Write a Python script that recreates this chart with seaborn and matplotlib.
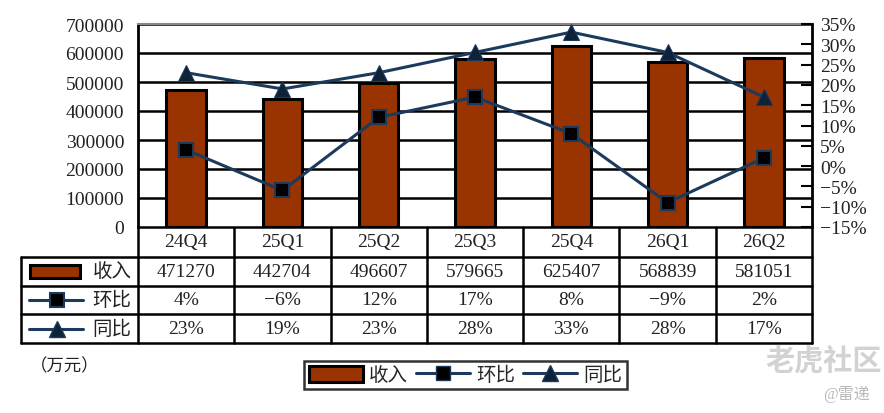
import numpy as np
import pandas as pd
import matplotlib
matplotlib.use("Agg")
import matplotlib.pyplot as plt
import seaborn as sns
from matplotlib.patches import Rectangle, Patch
from matplotlib.lines import Line2D
from matplotlib.ticker import FuncFormatter, MultipleLocator

# ---- data ----
quarters = ["24Q4", "25Q1", "25Q2", "25Q3", "25Q4", "26Q1", "26Q2"]
revenue = [471270, 442704, 496607, 579665, 625407, 568839, 581051]
qoq = [4, -6, 12, 17, 8, -9, 2]
yoy = [23, 19, 23, 28, 33, 28, 17]
series_names = ["收入", "环比", "同比"]
unit_label = "（万元）"

sns.set_theme(style="white")
plt.rcParams["font.family"] = ["Liberation Serif", "Noto Sans CJK SC", "DejaVu Sans"]
plt.rcParams["axes.unicode_minus"] = True

BAR = "#993300"
LINE = "#1B3A5C"
W, H = 884, 414

fig = plt.figure(figsize=(W / 100, H / 100), dpi=100)
fig.patch.set_facecolor("white")

L, R, T, B = 138, 812, 25, 228
ax = fig.add_axes([L / W, 1 - B / H, (R - L) / W, (B - T) / H])

df = pd.DataFrame({"q": quarters, "rev": revenue})
sns.barplot(data=df, x="q", y="rev", color=BAR, saturation=1, width=0.41,
            edgecolor="black", linewidth=2.2, ax=ax, zorder=3)
ax.set_ylim(0, 700000)
ax.set_xlim(-0.5, len(quarters) - 0.5)
ax.yaxis.set_major_locator(MultipleLocator(100000))
ax.yaxis.set_major_formatter(FuncFormatter(lambda v, _: f"{v:.0f}"))
ax.set_xlabel("")
ax.set_ylabel("")
ax.set_xticks([])
ax.tick_params(axis="y", length=0, pad=10, labelsize=14, colors="#222222")
ax.yaxis.grid(True, color="black", linewidth=1.8, zorder=0)
ax.set_axisbelow(True)
for s in ["left"]:
    ax.spines[s].set_color("black"); ax.spines[s].set_linewidth(2)
ax.spines["top"].set_color("#888888"); ax.spines["top"].set_linewidth(1.5)
ax.spines["bottom"].set_visible(False)
ax.spines["right"].set_visible(False)

ax2 = ax.twinx()
x = np.arange(len(quarters))
sns.lineplot(x=x, y=yoy, ax=ax2, color=LINE, linewidth=2.2, marker="^",
             markersize=11, markerfacecolor="#0E2238", markeredgecolor=LINE, zorder=5)
sns.lineplot(x=x, y=qoq, ax=ax2, color=LINE, linewidth=2.2, marker="s",
             markersize=10, markerfacecolor="black", markeredgecolor=LINE,
             markeredgewidth=1.5, zorder=5)
ax2.set_ylim(-15, 35)
ax2.set_xlim(-0.5, len(quarters) - 0.5)
ax2.yaxis.set_major_locator(MultipleLocator(5))
ax2.yaxis.set_major_formatter(FuncFormatter(lambda v, _: f"{v:.0f}%".replace("-", "\u2212")))
ax2.tick_params(axis="y", direction="in", length=8, width=1.5, pad=6,
                labelsize=14, colors="#222222")
ax2.tick_params(axis="y", colors="black", labelcolor="#222222")
ax2.spines["right"].set_color("black"); ax2.spines["right"].set_linewidth(2)
for s in ["top", "bottom", "left"]:
    ax2.spines[s].set_visible(False)
ax2.set_ylabel("")
ax2.grid(False)

# ---- data table ----
tax = fig.add_axes([0, 0, 1, 1], zorder=-1)
tax.set_xlim(0, W); tax.set_ylim(H, 0); tax.axis("off")
n = len(quarters)
cw = (R - L) / n
cols = [L + i * cw for i in range(n + 1)]
rows = [228, 258, 287, 315, 344]
LX = 21
lw = 1.8
tax.plot([L, R], [rows[0], rows[0]], color="black", lw=lw)
for yy in rows[1:]:
    tax.plot([LX, R], [yy, yy], color="black", lw=lw)
for cx in cols:
    tax.plot([cx, cx], [rows[0], rows[-1]], color="black", lw=lw)
tax.plot([LX, LX], [rows[1], rows[-1]], color="black", lw=lw)

fs = 14
rowvals = [quarters, [str(v) for v in revenue],
           [f"{v}%".replace("-", "\u2212") for v in qoq],
           [f"{v}%" for v in yoy]]
for r, vals in enumerate(rowvals):
    yc = (rows[r] + rows[r + 1]) / 2
    for i, s in enumerate(vals):
        tax.text(L + (i + 0.5) * cw, yc, s, ha="center", va="center",
                 fontsize=fs, color="#222222")

# legend keys in table
yc1 = (rows[1] + rows[2]) / 2
tax.add_patch(Rectangle((30, yc1 - 6.5), 50, 13, facecolor=BAR, edgecolor="black", lw=2.2))
yc2 = (rows[2] + rows[3]) / 2
tax.plot([29, 83], [yc2, yc2], color=LINE, lw=2.2)
tax.plot([57], [yc2], marker="s", markersize=10, markerfacecolor="black",
         markeredgecolor=LINE, markeredgewidth=1.5, color=LINE)
yc3 = (rows[3] + rows[4]) / 2
tax.plot([29, 83], [yc3, yc3], color=LINE, lw=2.2)
tax.plot([57], [yc3], marker="^", markersize=11, markerfacecolor="#0E2238",
         markeredgecolor=LINE, color=LINE)
for yc, name in zip([yc1, yc2, yc3], series_names):
    tax.text(112, yc, name, ha="center", va="center", fontsize=fs, color="#222222")

# unit label and watermark
tax.text(30, 367, unit_label, ha="left", va="center", fontsize=12.5, color="#222222")
tax.text(824, 362, "老虎社区", ha="center", va="center", fontsize=21, color="#D2D2D2",
         fontweight="bold")
tax.text(847, 394, "@雷递", ha="center", va="center", fontsize=11.5, color="#B8B8B8")

# bottom legend
handles = [Patch(facecolor=BAR, edgecolor="black", linewidth=2.2),
           Line2D([], [], color=LINE, lw=2.2, marker="s", markersize=10,
                  markerfacecolor="black", markeredgecolor=LINE),
           Line2D([], [], color=LINE, lw=2.2, marker="^", markersize=11,
                  markerfacecolor="#0E2238", markeredgecolor=LINE)]
leg = fig.legend(handles, series_names, loc="center", ncol=3,
                 bbox_to_anchor=((298 + 633) / 2 / W, 1 - 376 / H),
                 fontsize=fs, handlelength=2.8, handleheight=0.9, handletextpad=0.3,
                 columnspacing=0.4, borderpad=0.25, fancybox=False, frameon=True)
leg.get_frame().set_edgecolor("black")
leg.get_frame().set_linewidth(1.8)

fig.savefig("out.png", dpi=100, facecolor="white")
